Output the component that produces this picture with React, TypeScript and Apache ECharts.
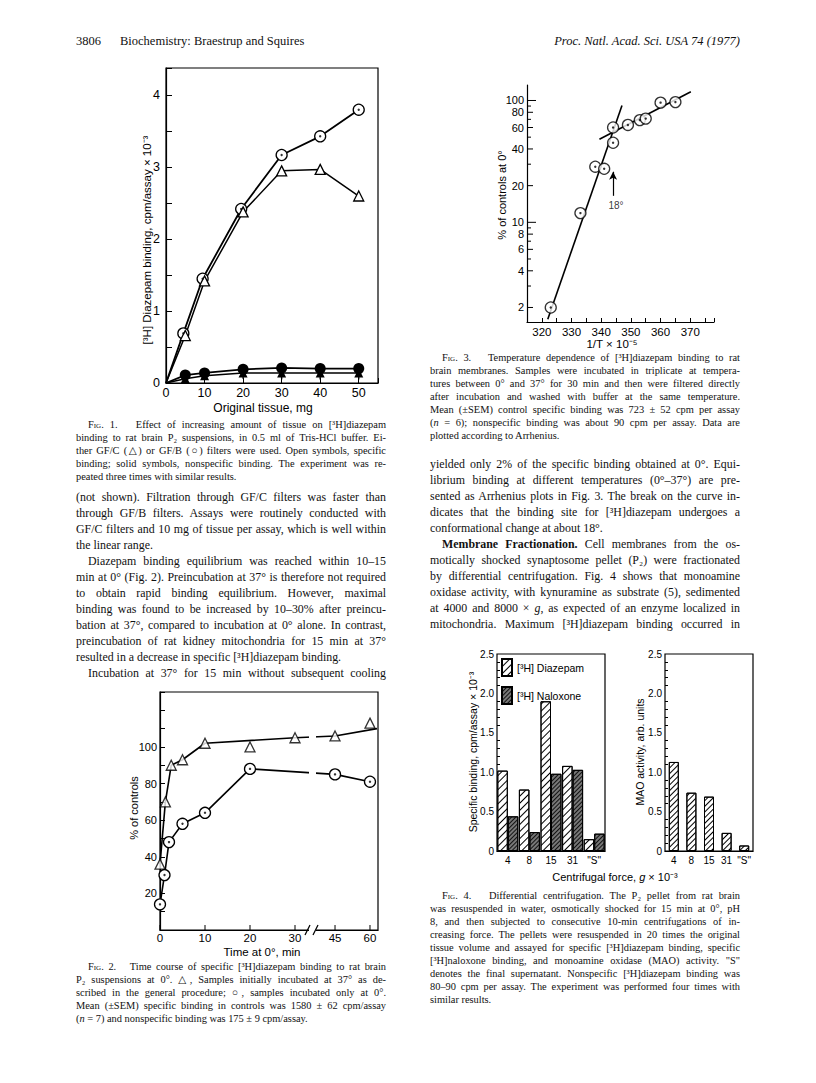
import React, { useEffect, useRef } from 'react';
import * as echarts from 'echarts';

const SANS = "'Liberation Sans', Arial, Helvetica, sans-serif";
const SERIF = "'Liberation Serif', 'DejaVu Serif', serif";

// ---------- Fig. 1 : tissue amount ----------
const fig1TriX = [0, 5, 10, 20, 30, 40, 50];
const fig1CircleX = [0, 4.5, 9.5, 19.5, 30, 40, 50];
const fig1OpenCircle = [0, 0.69, 1.45, 2.42, 3.17, 3.43, 3.8];
const fig1OpenTri = [0, 0.66, 1.42, 2.38, 2.95, 2.97, 2.6];
const fig1SolidCircle = [0, 0.11, 0.14, 0.19, 0.21, 0.2, 0.2];
const fig1SolidTri = [0, 0.06, 0.1, 0.14, 0.14, 0.14, 0.14];
const fig1SolidErr = [0, 0.04, 0.06, 0.08, 0.09, 0.09, 0.09];

// ---------- Fig. 2 : time course ----------
const fig2CircleT = [0, 1, 2, 5, 10, 20, 45, 60];
const fig2Circle = [14, 30, 48, 58, 64, 88, 85, 81];
const fig2TriT = [0, 1.2, 2.5, 5, 10, 20, 30, 45, 60];
const fig2Tri = [36, 70, 90, 93, 102, 100, 105, 106, 113];
const fig2TriFitT = [0, 1.2, 2.5, 5, 10, 30, 45, 63];
const fig2TriFit = [36, 70, 90, 93, 102, 105, 106, 110];
const fig2XTicks = [0, 10, 20, 30, 45, 60];

// ---------- Fig. 3 : Arrhenius ----------
const fig3InvT = [323, 333, 338, 341, 344, 344, 349, 353, 355, 360, 365];
const fig3Pct = [2.0, 11.9, 28.6, 27.5, 60, 45, 63, 69, 71, 96, 97];
const fig3SteepX = [322, 347];
const fig3SteepY = [1.6, 91];
const fig3ShallowX = [339.4, 370.2];
const fig3ShallowY = [48, 118];
const fig3YTicks = [2, 3, 4, 5, 6, 7, 8, 9, 10, 20, 30, 40, 50, 60, 70, 80, 90, 100];
const fig3YLabels = ['2', '', '4', '', '6', '', '8', '', '10', '20', '', '40', '', '60', '', '80', '', '100'];

// ---------- Fig. 4 : centrifugation ----------
const fig4Cats = ['4', '8', '15', '31', '"S"'];
const fig4Diazepam = [1.02, 0.78, 1.9, 1.08, 0.15];
const fig4Naloxone = [0.44, 0.24, 0.98, 1.03, 0.22];
const fig4Mao = [1.13, 0.74, 0.69, 0.23, 0.07];

// broken time axis of Fig. 2 (0-30 min at one scale, 45-60 min at another)
const fig2U = (t: number) => (t <= 34 ? t : 38.89 + (t - 45) * 0.518);

const SC = (s: string) => `<span style="font-variant:small-caps">${s}</span>`;

type Line = { x: number; y: number; w: number; html: string; size: number; indent?: number; last?: boolean };

const CAP = 10.4;
const BODY = 11.9;
const L = 76;
const R = 430;
const W = 310;

const textLines: Line[] = [
  // Fig 1 caption
  { x: L, y: 425, w: W, size: CAP, indent: 12, html: `${SC('Fig.')} 1.&nbsp;&nbsp; Effect of increasing amount of tissue on [³H]diazepam` },
  { x: L, y: 438, w: W, size: CAP, html: 'binding to rat brain P₂ suspensions, in 0.5 ml of Tris-HCl buffer. Ei-' },
  { x: L, y: 451, w: W, size: CAP, html: 'ther GF/C (△) or GF/B (○) filters were used. Open symbols, specific' },
  { x: L, y: 464, w: W, size: CAP, html: 'binding; solid symbols, nonspecific binding. The experiment was re-' },
  { x: L, y: 477, w: W, size: CAP, last: true, html: 'peated three times with similar results.' },
  // left body
  { x: L, y: 497, w: W, size: BODY, html: '(not shown). Filtration through GF/C filters was faster than' },
  { x: L, y: 513, w: W, size: BODY, html: 'through GF/B filters. Assays were routinely conducted with' },
  { x: L, y: 529, w: W, size: BODY, html: 'GF/C filters and 10 mg of tissue per assay, which is well within' },
  { x: L, y: 545, w: W, size: BODY, last: true, html: 'the linear range.' },
  { x: L, y: 561, w: W, size: BODY, indent: 12, html: 'Diazepam binding equilibrium was reached within 10–15' },
  { x: L, y: 577, w: W, size: BODY, html: 'min at 0° (Fig. 2). Preincubation at 37° is therefore not required' },
  { x: L, y: 593, w: W, size: BODY, html: 'to obtain rapid binding equilibrium. However, maximal' },
  { x: L, y: 609, w: W, size: BODY, html: 'binding was found to be increased by 10–30% after preincu-' },
  { x: L, y: 625, w: W, size: BODY, html: 'bation at 37°, compared to incubation at 0° alone. In contrast,' },
  { x: L, y: 641, w: W, size: BODY, html: 'preincubation of rat kidney mitochondria for 15 min at 37°' },
  { x: L, y: 657, w: W, size: BODY, last: true, html: 'resulted in a decrease in specific [³H]diazepam binding.' },
  { x: L, y: 673, w: W, size: BODY, indent: 12, html: 'Incubation at 37° for 15 min without subsequent cooling' },
  // Fig 2 caption
  { x: L, y: 967, w: W, size: CAP, indent: 12, html: `${SC('Fig.')} 2.&nbsp;&nbsp; Time course of specific [³H]diazepam binding to rat brain` },
  { x: L, y: 980, w: W, size: CAP, html: 'P₂ suspensions at 0°. △, Samples initially incubated at 37° as de-' },
  { x: L, y: 993, w: W, size: CAP, html: 'scribed in the general procedure; ○, samples incubated only at 0°.' },
  { x: L, y: 1006, w: W, size: CAP, html: 'Mean (±SEM) specific binding in controls was 1580 ± 62 cpm/assay' },
  { x: L, y: 1019, w: W, size: CAP, last: true, html: '(<i>n</i> = 7) and nonspecific binding was 175 ± 9 cpm/assay.' },
  // Fig 3 caption
  { x: R, y: 358, w: W, size: CAP, indent: 12, html: `${SC('Fig.')} 3.&nbsp;&nbsp; Temperature dependence of [³H]diazepam binding to rat` },
  { x: R, y: 371, w: W, size: CAP, html: 'brain membranes. Samples were incubated in triplicate at tempera-' },
  { x: R, y: 384, w: W, size: CAP, html: 'tures between 0° and 37° for 30 min and then were filtered directly' },
  { x: R, y: 397, w: W, size: CAP, html: 'after incubation and washed with buffer at the same temperature.' },
  { x: R, y: 410, w: W, size: CAP, html: 'Mean (±SEM) control specific binding was 723 ± 52 cpm per assay' },
  { x: R, y: 423, w: W, size: CAP, html: '(<i>n</i> = 6); nonspecific binding was about 90 cpm per assay. Data are' },
  { x: R, y: 436, w: W, size: CAP, last: true, html: 'plotted according to Arrhenius.' },
  // right body
  { x: R, y: 464, w: W, size: BODY, html: 'yielded only 2% of the specific binding obtained at 0°. Equi-' },
  { x: R, y: 480, w: W, size: BODY, html: 'librium binding at different temperatures (0°–37°) are pre-' },
  { x: R, y: 496, w: W, size: BODY, html: 'sented as Arrhenius plots in Fig. 3. The break on the curve in-' },
  { x: R, y: 512, w: W, size: BODY, html: 'dicates that the binding site for [³H]diazepam undergoes a' },
  { x: R, y: 528, w: W, size: BODY, last: true, html: 'conformational change at about 18°.' },
  { x: R, y: 544, w: W, size: BODY, indent: 12, html: '<b>Membrane Fractionation.</b> Cell membranes from the os-' },
  { x: R, y: 560, w: W, size: BODY, html: 'motically shocked synaptosome pellet (P₂) were fractionated' },
  { x: R, y: 576, w: W, size: BODY, html: 'by differential centrifugation. Fig. 4 shows that monoamine' },
  { x: R, y: 592, w: W, size: BODY, html: 'oxidase activity, with kynuramine as substrate (5), sedimented' },
  { x: R, y: 608, w: W, size: BODY, html: 'at 4000 and 8000 × <i>g</i>, as expected of an enzyme localized in' },
  { x: R, y: 624, w: W, size: BODY, html: 'mitochondria. Maximum [³H]diazepam binding occurred in' },
  // Fig 4 caption
  { x: R, y: 896, w: W, size: CAP, indent: 12, html: `${SC('Fig.')} 4.&nbsp;&nbsp; Differential centrifugation. The P₂ pellet from rat brain` },
  { x: R, y: 909, w: W, size: CAP, html: 'was resuspended in water, osmotically shocked for 15 min at 0°, pH' },
  { x: R, y: 922, w: W, size: CAP, html: '8, and then subjected to consecutive 10-min centrifugations of in-' },
  { x: R, y: 935, w: W, size: CAP, html: 'creasing force. The pellets were resuspended in 20 times the original' },
  { x: R, y: 948, w: W, size: CAP, html: 'tissue volume and assayed for specific [³H]diazepam binding, specific' },
  { x: R, y: 961, w: W, size: CAP, html: '[³H]naloxone binding, and monoamine oxidase (MAO) activity. "S"' },
  { x: R, y: 974, w: W, size: CAP, html: 'denotes the final supernatant. Nonspecific [³H]diazepam binding was' },
  { x: R, y: 987, w: W, size: CAP, html: '80–90 cpm per assay. The experiment was performed four times with' },
  { x: R, y: 1000, w: W, size: CAP, last: true, html: 'similar results.' },
];

const openSym = { color: '#fff', borderColor: '#000', borderWidth: 1.3 };
const axisLineStyle = { lineStyle: { color: '#000', width: 1.2 } };
const tickStyle = { lineStyle: { color: '#000', width: 1 } };

// Fig. 4 panel geometry
const P4A = { left: 497, width: 108 };
const P4B = { left: 665, width: 88 };
const P4_TOP = 654;
const P4_H = 197;

function buildOption(): any {
  const lbl = (size: number) => ({ color: '#000', fontFamily: SANS, fontSize: size });
  const gtext = (x: number, y: number, text: string, size: number, rot = 0, extra: any = {}) => ({
    type: 'text', x, y, rotation: rot, z: 60,
    style: { text, fill: '#000', font: `${size}px ${SANS}`, textAlign: 'center', textVerticalAlign: 'middle', ...extra },
  });

  const hatch = { symbol: 'rect', symbolSize: 1, color: '#000', backgroundColor: '#fff', dashArrayX: [1, 0], dashArrayY: [1, 4], rotation: -Math.PI / 4 };
  const hatchDense = { symbol: 'rect', symbolSize: 1, color: '#000', backgroundColor: '#fff', dashArrayX: [1, 0], dashArrayY: [1, 2.5], rotation: -Math.PI / 4 };
  const crossDark = { symbol: 'rect', symbolSize: 1, color: '#111', backgroundColor: '#8a8a8a', dashArrayX: [1, 0], dashArrayY: [1, 1.5], rotation: -Math.PI / 4 };

  const dots = (xs: number[], ys: number[], xi: number, yi: number, skipFirst = false) => ({
    type: 'scatter', xAxisIndex: xi, yAxisIndex: yi, symbol: 'circle', symbolSize: 2.4, z: 6, silent: true, clip: false,
    itemStyle: { color: '#000' },
    data: xs.map((x, i) => [x, ys[i]]).slice(skipFirst ? 1 : 0),
  });

  const p4Y = (gi: number) => ({
    gridIndex: gi, type: 'value', min: 0, max: 2.5, interval: 0.5, axisLine: axisLineStyle, splitLine: { show: false },
    axisTick: { inside: true, length: 5, ...tickStyle }, minorTick: { show: true, splitNumber: 5, length: 3, lineStyle: { color: '#000' } },
    axisLabel: { ...lbl(10), margin: 3, formatter: (v: number) => (v === 0 ? '0' : v.toFixed(1)) },
  });
  const p4X = (gi: number) => ({
    gridIndex: gi, type: 'category', data: fig4Cats, axisLine: axisLineStyle,
    axisTick: { inside: true, length: 3, ...tickStyle }, axisLabel: { ...lbl(10), margin: 4, interval: 0, hideOverlap: false },
  });

  return {
    animation: false,
    backgroundColor: 'transparent',
    grid: [
      { left: 166, top: 68, width: 212, height: 315, show: true, borderColor: '#000', borderWidth: 1.2 },
      { left: 527, top: 85, width: 187, height: 237 },
      { left: 160, top: 692, width: 218, height: 238, show: true, borderColor: '#000', borderWidth: 1.2 },
      { left: P4A.left, top: P4_TOP, width: P4A.width, height: P4_H, show: true, borderColor: '#000', borderWidth: 1.2 },
      { left: P4B.left, top: P4_TOP, width: P4B.width, height: P4_H, show: true, borderColor: '#000', borderWidth: 1.2 },
    ],
    xAxis: [
      { gridIndex: 0, type: 'value', min: 0, max: 55, interval: 10, axisLine: axisLineStyle, splitLine: { show: false },
        axisTick: { inside: true, length: 5, ...tickStyle },
        axisLabel: { ...lbl(12.5), margin: 3, formatter: (v: number) => (v % 10 === 0 && v <= 50 ? String(v) : '') } },
      { gridIndex: 1, type: 'value', min: 315, max: 378, interval: 5, axisLine: axisLineStyle, splitLine: { show: false },
        axisTick: { inside: true, length: 4, ...tickStyle },
        axisLabel: { ...lbl(11.5), margin: 4, formatter: (v: number) => (v % 10 === 0 && v >= 320 && v <= 370 ? String(v) : '') } },
      { gridIndex: 2, type: 'value', min: 0, max: 48.44, axisLine: axisLineStyle, splitLine: { show: false },
        axisTick: { show: false }, axisLabel: { show: false } },
      p4X(3),
      p4X(4),
    ],
    yAxis: [
      { gridIndex: 0, type: 'value', min: 0, max: 4.38, interval: 0.5, axisLine: axisLineStyle, splitLine: { show: false },
        axisTick: { inside: true, length: 6, ...tickStyle },
        axisLabel: { ...lbl(12.5), margin: 6, formatter: (v: number) => (Number.isInteger(v) ? String(v) : '') } },
      { gridIndex: 1, type: 'log', logBase: 10, min: 1.52, max: 134, axisLine: axisLineStyle, splitLine: { show: false },
        axisTick: { show: false }, axisLabel: { show: false } },
      { gridIndex: 2, type: 'value', min: 0, max: 130, interval: 10, axisLine: axisLineStyle, splitLine: { show: false },
        axisTick: { inside: true, length: 5, ...tickStyle },
        axisLabel: { ...lbl(11), margin: 3, formatter: (v: number) => (v >= 20 && v <= 100 && v % 20 === 0 ? String(v) : '') } },
      p4Y(3),
      p4Y(4),
    ],
    legend: {
      data: ['[³H] Diazepam', '[³H] Naloxone'], orient: 'vertical', left: P4A.left + 4, top: P4_TOP + 4, itemWidth: 10, itemHeight: 17, itemGap: 9,
      icon: 'rect', textStyle: { fontFamily: SANS, fontSize: 10.5, color: '#000' }, selectedMode: false, padding: 0,
    },
    series: [
      // ---- Fig 1 ----
      { type: 'line', xAxisIndex: 0, yAxisIndex: 0, z: 3, clip: false, showAllSymbol: true, symbol: 'circle', symbolSize: 11,
        itemStyle: openSym, lineStyle: { color: '#000', width: 1.8 },
        data: fig1CircleX.map((x, i) => (i === 0 ? { value: [x, fig1OpenCircle[i]], symbol: 'none' } : [x, fig1OpenCircle[i]])) },
      dots(fig1CircleX, fig1OpenCircle, 0, 0, true),
      { type: 'line', xAxisIndex: 0, yAxisIndex: 0, z: 3, clip: false, showAllSymbol: true, symbol: 'triangle', symbolSize: 10,
        itemStyle: openSym, lineStyle: { color: '#000', width: 1.5 },
        data: fig1TriX.map((x, i) => (i === 0 ? { value: [x, fig1OpenTri[i]], symbol: 'none' } : [x, fig1OpenTri[i]])) },
      { type: 'custom', xAxisIndex: 0, yAxisIndex: 0, z: 2,
        data: fig1TriX.map((x, i) => [x, fig1SolidTri[i], fig1SolidErr[i]]).slice(1),
        renderItem: (_p: any, api: any) => {
          const a = api.coord([api.value(0), api.value(1)]);
          const b = api.coord([api.value(0), api.value(1) - api.value(2)]);
          return { type: 'line', shape: { x1: a[0], y1: a[1], x2: b[0], y2: b[1] }, style: { stroke: '#000', lineWidth: 1.4 } };
        } },
      { type: 'line', xAxisIndex: 0, yAxisIndex: 0, z: 4, clip: false, showAllSymbol: true, symbol: 'triangle', symbolSize: 9,
        itemStyle: { color: '#000' }, lineStyle: { color: '#000', width: 1.6 },
        data: fig1TriX.map((x, i) => (i === 0 ? { value: [x, fig1SolidTri[i]], symbol: 'none' } : [x, fig1SolidTri[i]])) },
      { type: 'line', xAxisIndex: 0, yAxisIndex: 0, z: 4, clip: false, showAllSymbol: true, symbol: 'circle', symbolSize: 11,
        itemStyle: { color: '#000' }, lineStyle: { color: '#000', width: 1.8 },
        data: fig1TriX.map((x, i) => (i === 0 ? { value: [x, fig1SolidCircle[i]], symbol: 'none' } : [x, fig1SolidCircle[i]])) },

      // ---- Fig 3 ----
      { type: 'line', xAxisIndex: 1, yAxisIndex: 1, symbol: 'none', clip: false, lineStyle: { color: '#000', width: 1.6 },
        data: fig3SteepX.map((x, i) => [x, fig3SteepY[i]]),
        markLine: { silent: true, symbol: ['none', 'arrow'], symbolSize: [6, 8], label: { show: false },
          lineStyle: { color: '#000', type: 'solid', width: 1.2 },
          data: [[{ coord: [344, 16.5] }, { coord: [344, 26] }]] } },
      { type: 'line', xAxisIndex: 1, yAxisIndex: 1, symbol: 'none', clip: false, lineStyle: { color: '#000', width: 1.6 },
        data: fig3ShallowX.map((x, i) => [x, fig3ShallowY[i]]) },
      { type: 'scatter', xAxisIndex: 1, yAxisIndex: 1, symbol: 'circle', symbolSize: 11, z: 4, itemStyle: openSym,
        data: fig3InvT.map((x, i) => [x, fig3Pct[i]]) },
      dots(fig3InvT, fig3Pct, 1, 1),
      { type: 'scatter', xAxisIndex: 1, yAxisIndex: 1, symbolSize: 1, itemStyle: { color: 'rgba(0,0,0,0)' }, silent: true,
        label: { show: true, position: 'inside', formatter: '18°', ...lbl(10) }, data: [[345, 13.8]] },
      { type: 'custom', xAxisIndex: 1, yAxisIndex: 1, z: 5,
        data: fig3YTicks.map((v) => [315, v]),
        renderItem: (p: any, api: any) => {
          const v = api.value(1);
          const c = api.coord([315, v]);
          const lab = fig3YLabels[p.dataIndex];
          const len = v === 10 || v === 100 ? 9 : lab ? 6 : 4;
          return { type: 'group', children: [
            { type: 'line', shape: { x1: c[0], y1: c[1], x2: c[0] + len, y2: c[1] }, style: { stroke: '#000', lineWidth: 1 } },
            { type: 'text', x: c[0] - 3, y: c[1], style: { text: lab, fill: '#000', font: `11px ${SANS}`, textAlign: 'right', textVerticalAlign: 'middle' } },
          ] };
        } },

      // ---- Fig 2 ----
      { type: 'line', xAxisIndex: 2, yAxisIndex: 2, symbol: 'none', clip: false, z: 3, lineStyle: { color: '#000', width: 1.6 },
        data: fig2TriFitT.map((t, i) => [fig2U(t), fig2TriFit[i]]) },
      { type: 'scatter', xAxisIndex: 2, yAxisIndex: 2, symbol: 'triangle', symbolSize: 10, z: 4, clip: false, itemStyle: openSym,
        data: fig2TriT.map((t, i) => [fig2U(t), fig2Tri[i]]) },
      { type: 'line', xAxisIndex: 2, yAxisIndex: 2, symbol: 'circle', symbolSize: 11, showAllSymbol: true, clip: false, z: 4,
        itemStyle: openSym, lineStyle: { color: '#000', width: 1.6 },
        data: fig2CircleT.map((t, i) => [fig2U(t), fig2Circle[i]]) },
      dots(fig2CircleT.map(fig2U), fig2Circle, 2, 2),
      { type: 'custom', xAxisIndex: 2, yAxisIndex: 2, z: 5,
        data: fig2XTicks.map((t) => [fig2U(t), 0]),
        renderItem: (p: any, api: any) => {
          const c = api.coord([api.value(0), 0]);
          return { type: 'group', children: [
            { type: 'line', shape: { x1: c[0], y1: c[1], x2: c[0], y2: c[1] - 5 }, style: { stroke: '#000', lineWidth: 1 } },
            { type: 'text', x: c[0], y: c[1] + 8, style: { text: String(fig2XTicks[p.dataIndex]), fill: '#000', font: `11.5px ${SANS}`, textAlign: 'center', textVerticalAlign: 'middle' } },
          ] };
        } },

      // ---- Fig 4 ----
      { name: '[³H] Diazepam', type: 'bar', xAxisIndex: 3, yAxisIndex: 3, barWidth: 10.5, barGap: '0%', data: fig4Diazepam,
        itemStyle: { color: '#fff', borderColor: '#000', borderWidth: 1, decal: hatch } },
      { name: '[³H] Naloxone', type: 'bar', xAxisIndex: 3, yAxisIndex: 3, barWidth: 10.5, barGap: '0%', data: fig4Naloxone,
        itemStyle: { color: '#777', borderColor: '#000', borderWidth: 1, decal: crossDark } },
      { name: 'MAO', type: 'bar', xAxisIndex: 4, yAxisIndex: 4, barWidth: 10, data: fig4Mao,
        itemStyle: { color: '#fff', borderColor: '#000', borderWidth: 1, decal: hatchDense } },
    ],
    graphic: [
      gtext(147, 240, '[³H] Diazepam binding, cpm/assay × 10⁻³', 11.5, Math.PI / 2),
      gtext(263, 408, 'Original tissue, mg', 12),
      gtext(134, 808, '% of controls', 11, Math.PI / 2),
      gtext(262, 952, 'Time at 0°, min', 11.5),
      gtext(502, 195, '% of controls at 0°', 11, Math.PI / 2),
      gtext(612, 344, '1/T × 10⁻⁵', 11.5),
      gtext(P4A.left - 24, 752, 'Specific binding, cpm/assay × 10⁻³', 10.5, Math.PI / 2),
      gtext(P4B.left - 25, 752, 'MAO activity, arb. units', 10.5, Math.PI / 2),
      { type: 'text', x: 615, y: 877, z: 60,
        style: { text: 'Centrifugal force, {i|g} × 10⁻³', rich: { i: { fontStyle: 'italic', fontFamily: SANS, fontSize: 11 } },
          fill: '#000', font: `11px ${SANS}`, textAlign: 'center', textVerticalAlign: 'middle' } },
      // axis break of Fig. 2
      { type: 'rect', z: 50, shape: { x: 309, y: 694, width: 7, height: 240 }, style: { fill: '#fff' } },
      { type: 'line', z: 51, shape: { x1: 305, y1: 935, x2: 310, y2: 925 }, style: { stroke: '#000', lineWidth: 1.2 } },
      { type: 'line', z: 51, shape: { x1: 313, y1: 935, x2: 318, y2: 925 }, style: { stroke: '#000', lineWidth: 1.2 } },
    ],
  };
}

export default function App() {
  const ref = useRef<HTMLDivElement>(null);
  useEffect(() => {
    if (!ref.current) return;
    const chart = echarts.init(ref.current, null, { renderer: 'svg' });
    chart.setOption(buildOption());
    return () => chart.dispose();
  }, []);

  return (
    <div style={{ position: 'absolute', left: 0, top: 0, width: 816, height: 1083, background: '#fff', overflow: 'hidden', color: '#111' }}>
      <div ref={ref} style={{ position: 'absolute', left: 0, top: 0, width: 816, height: 1083 }} />
      <div style={{ position: 'absolute', left: 76, top: 34, fontFamily: SERIF, fontSize: 12.5, whiteSpace: 'nowrap' }}>3806</div>
      <div style={{ position: 'absolute', left: 120, top: 34, fontFamily: SERIF, fontSize: 12.5, whiteSpace: 'nowrap' }}>Biochemistry: Braestrup and Squires</div>
      <div style={{ position: 'absolute', right: 816 - 740, top: 34, fontFamily: SERIF, fontSize: 12.5, fontStyle: 'italic', whiteSpace: 'nowrap' }}>
        Proc. Natl. Acad. Sci. USA 74 (1977)
      </div>
      {textLines.map((ln, i) => {
        const ind = ln.indent || 0;
        return (
          <div
            key={i}
            style={{
              position: 'absolute', left: ln.x + ind, top: ln.y - ln.size * 0.6, width: ln.w - ind,
              fontFamily: SERIF, fontSize: ln.size, lineHeight: `${ln.size * 1.2}px`, whiteSpace: 'nowrap',
              textAlign: ln.last ? 'left' : 'justify', textAlignLast: ln.last ? 'left' : 'justify',
            }}
            dangerouslySetInnerHTML={{ __html: ln.html }}
          />
        );
      })}
    </div>
  );
}
